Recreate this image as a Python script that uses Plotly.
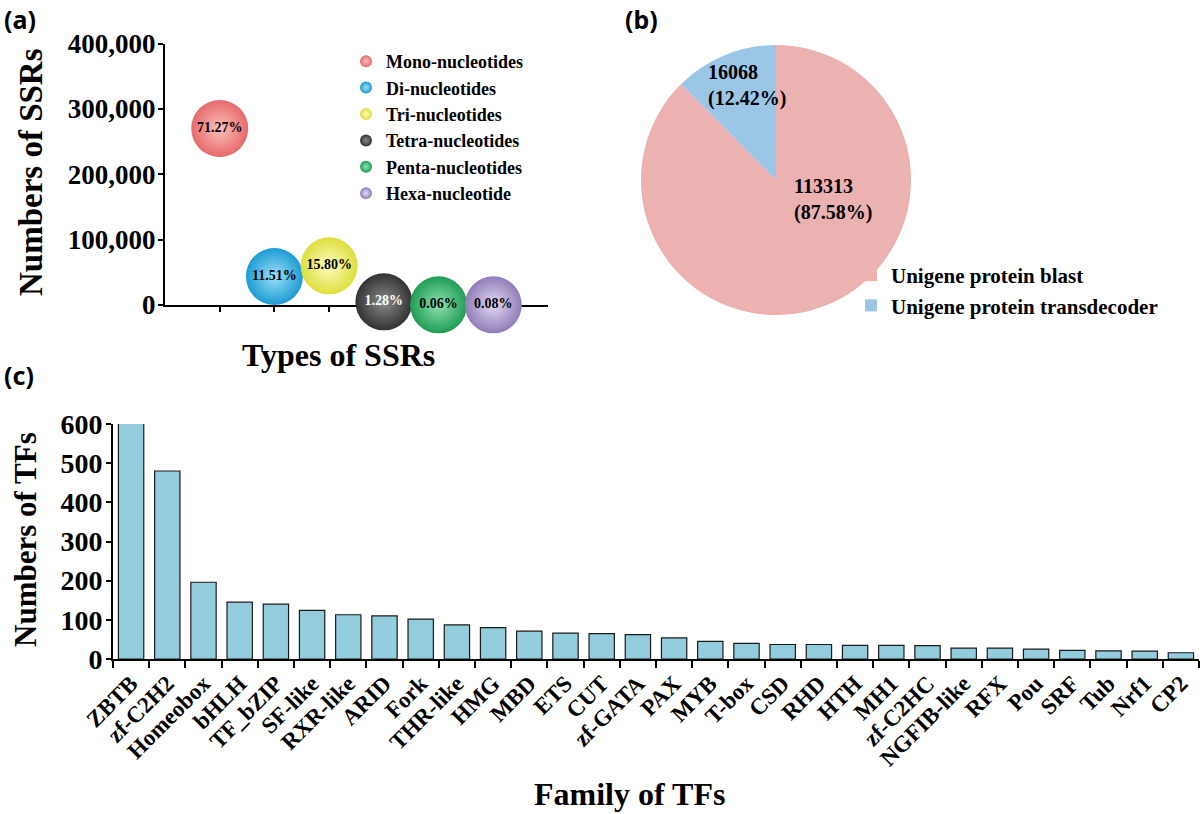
import plotly.graph_objects as go

# ---------------- data ----------------
# Panel (a): SSR types
ssr_types = ["Mono-nucleotides", "Di-nucleotides", "Tri-nucleotides",
             "Tetra-nucleotides", "Penta-nucleotides", "Hexa-nucleotide"]
ssr_x = [1, 2, 3, 4, 5, 6]
ssr_counts = [270000, 43600, 59900, 4850, 230, 300]
ssr_pct_labels = ["71.27%", "11.51%", "15.80%", "1.28%", "0.06%", "0.08%"]

# Panel (b): unigene protein sources
pie_labels = ["Unigene protein blast", "Unigene protein transdecoder"]
pie_values = [113313, 16068]

# Panel (c): TF families
tf_families = ["ZBTB", "zf-C2H2", "Homeobox", "bHLH", "TF_bZIP", "SF-like", "RXR-like",
               "ARID", "Fork", "THR-like", "HMG", "MBD", "ETS", "CUT", "zf-GATA", "PAX",
               "MYB", "T-box", "CSD", "RHD", "HTH", "MH1", "zf-C2HC", "NGFIB-like", "RFX",
               "Pou", "SRF", "Tub", "Nrf1", "CP2"]
tf_counts = [603, 480, 196, 145, 140, 124, 113, 110, 102, 87, 80, 71, 66, 65, 62, 54,
             45, 40, 37, 37, 35, 35, 34, 28, 28, 25, 22, 21, 20, 16]

# ---------------- styles ----------------
SERIF = "Liberation Serif"
SANS = "Noto Sans"
W, H = 1200, 814

def px_x(p):
    return min(1.0, max(0.0, p / W))

def px_y(p):
    return min(1.0, max(0.0, 1 - p / H))

# radial gradient: marker colour = rim, gradient colour = centre
bubble_rim = ["#e66a6a", "#1d9bd2", "#dede3e", "#333333", "#1f9c55", "#8f7eb8"]
bubble_core = ["#fcc0be", "#9be0fa", "#fdfdc0", "#8a8a8a", "#8fe3b0", "#e2d8f4"]
bubble_text = ["black", "black", "black", "white", "black", "black"]

fig = go.Figure()

for i in range(len(ssr_types)):
    fig.add_trace(go.Scatter(
        x=[ssr_x[i]], y=[ssr_counts[i]],
        mode="markers+text",
        text=[ssr_pct_labels[i]],
        textposition="middle center",
        textfont=dict(family=SERIF, size=14, color=bubble_text[i], weight="bold"),
        marker=dict(size=57, color=bubble_rim[i],
                    gradient=dict(type="radial", color=bubble_core[i]),
                    line=dict(width=0)),
        name=ssr_types[i],
        xaxis="x", yaxis="y",
        legend="legend",
        cliponaxis=False,
    ))

fig.add_trace(go.Pie(
    labels=pie_labels, values=pie_values,
    marker=dict(colors=["#ecb1b1", "#9cc6e6"], line=dict(width=0)),
    sort=False, direction="clockwise", rotation=0,
    textinfo="none",
    domain=dict(x=[px_x(641), px_x(911)], y=[px_y(315), px_y(45)]),
    legend="legend2",
))

fig.add_trace(go.Bar(
    x=tf_families, y=tf_counts,
    marker=dict(color="#93cddd", line=dict(color="#1a1a1a", width=1.2)),
    xaxis="x2", yaxis="y2",
    showlegend=False,
    cliponaxis=False,
))

axis_common = dict(showline=True, linecolor="black", linewidth=2, showgrid=False,
                   zeroline=False, ticks="outside", tickcolor="black", tickwidth=2,
                   automargin=False)

# pie value labels built from data
total = sum(pie_values)
pie_txt = [f"{v}<br>({v / total * 100:.2f}%)" for v in pie_values]

annotations = [
    dict(text="(a)", x=px_x(2), y=1, xanchor="left", yanchor="top",
         font=dict(family=SANS, size=25, weight="bold", color="black")),
    dict(text="(b)", x=px_x(623), y=1, xanchor="left", yanchor="top",
         font=dict(family=SANS, size=25, weight="bold", color="black")),
    dict(text="(c)", x=px_x(2), y=px_y(375), xanchor="left", yanchor="middle",
         font=dict(family=SANS, size=25, weight="bold", color="black")),
    dict(text="Numbers of SSRs", x=px_x(31), y=px_y(172), textangle=-90,
         xanchor="center", yanchor="middle",
         font=dict(family=SERIF, size=33, weight="bold", color="black")),
    dict(text="Types of SSRs", x=px_x(338), y=px_y(355),
         xanchor="center", yanchor="middle",
         font=dict(family=SERIF, size=32, weight="bold", color="black")),
    dict(text="Numbers of TFs", x=px_x(25), y=px_y(540), textangle=-90,
         xanchor="center", yanchor="middle",
         font=dict(family=SERIF, size=31, weight="bold", color="black")),
    dict(text="Family of TFs", x=px_x(629), y=px_y(794),
         xanchor="center", yanchor="middle",
         font=dict(family=SERIF, size=32, weight="bold", color="black")),
    dict(text=pie_txt[1], x=px_x(706), y=px_y(85), xanchor="left", yanchor="middle",
         align="left", font=dict(family=SERIF, size=20, weight="bold", color="black")),
    dict(text=pie_txt[0], x=px_x(792), y=px_y(199), xanchor="left", yanchor="middle",
         align="left", font=dict(family=SERIF, size=20, weight="bold", color="black")),
]
for a in annotations:
    a.update(xref="paper", yref="paper", showarrow=False)

fig.update_layout(
    width=W, height=H,
    template="none",
    paper_bgcolor="white", plot_bgcolor="rgba(0,0,0,0)",
    margin=dict(l=0, r=0, t=0, b=0),
    bargap=0.3,
    xaxis=dict(domain=[px_x(165), px_x(548)], range=[0, 7], tickvals=ssr_x,
               showticklabels=False, ticklen=5, anchor="y", layer="below traces",
               **axis_common),
    yaxis=dict(domain=[px_y(305), px_y(43.5)], range=[0, 400000],
               tickvals=[0, 100000, 200000, 300000, 400000], tickformat=",d",
               ticklen=5, anchor="x", ticklabelstandoff=-3, layer="below traces",
               tickfont=dict(family=SERIF, size=27, weight="bold", color="black"),
               **axis_common),
    xaxis2=dict(domain=[px_x(113), px_x(1199)], type="category", tickson="boundaries",
                ticklen=7, tickangle=-45, anchor="y2",
                tickfont=dict(family=SERIF, size=23, weight="bold", color="black"),
                **axis_common),
    yaxis2=dict(domain=[px_y(659), px_y(424)], range=[0, 600], dtick=100,
                ticklen=5, anchor="x2", ticklabelstandoff=-2,
                tickfont=dict(family=SERIF, size=28, weight="bold", color="black"),
                **axis_common),
    legend=dict(x=px_x(346), y=px_y(43), xanchor="left", yanchor="top",
                font=dict(family=SERIF, size=18, weight="bold", color="black"),
                itemsizing="constant", bgcolor="rgba(0,0,0,0)", tracegroupgap=0),
    legend2=dict(x=px_x(851), y=px_y(255), xanchor="left", yanchor="top",
                 font=dict(family=SERIF, size=21, weight="bold", color="black"),
                 bgcolor="rgba(0,0,0,0)"),
    annotations=annotations,
)

# remove the default 8px page margin so the figure fills the window exactly
fig.write_html("out.html", config={"displayModeBar": False},
               post_script="document.body.style.margin='0px';")
